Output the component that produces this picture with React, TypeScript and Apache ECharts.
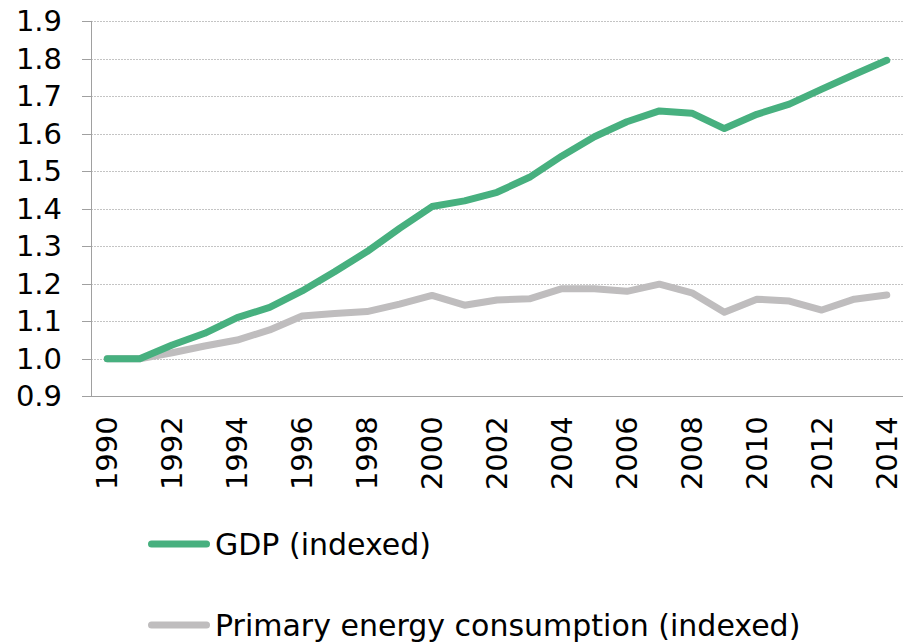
import React, { useEffect, useRef } from "react";
import * as echarts from "echarts";

const years = [
  "1990", "1991", "1992", "1993", "1994", "1995", "1996", "1997", "1998", "1999",
  "2000", "2001", "2002", "2003", "2004", "2005", "2006", "2007", "2008", "2009",
  "2010", "2011", "2012", "2013", "2014",
];

const gdp = [
  1.0, 1.0, 1.037, 1.068, 1.11, 1.137, 1.181, 1.232, 1.286, 1.348,
  1.406, 1.421, 1.444, 1.484, 1.541, 1.592, 1.632, 1.661, 1.655, 1.614,
  1.652, 1.679, 1.719, 1.758, 1.796,
];

const energy = [
  1.0, 1.0, 1.016, 1.034, 1.05, 1.077, 1.114, 1.121, 1.126, 1.146,
  1.169, 1.143, 1.157, 1.16, 1.187, 1.187, 1.18, 1.199, 1.176, 1.124,
  1.159, 1.154, 1.13, 1.159, 1.17,
];

const seriesNames = ["GDP (indexed)", "Primary energy consumption (indexed)"];

const FONT = "'DejaVu Sans', Verdana, sans-serif";
const PILL = "path://M3.5,0 H58.5 A3.5,3.5 0 0 1 58.5,7 H3.5 A3.5,3.5 0 0 1 3.5,0 Z";

const legendBase = {
  orient: "horizontal",
  left: 148,
  itemWidth: 62,
  itemHeight: 7,
  icon: PILL,
  padding: 0,
  textStyle: { fontSize: 30, color: "#000", fontFamily: FONT },
};

export default function App() {
  const ref = useRef<HTMLDivElement>(null);
  useEffect(() => {
    if (!ref.current) return;
    const chart = echarts.init(ref.current, undefined, { renderer: "svg" });
    chart.setOption({
      animation: false,
      grid: { left: 91, top: 21.3, height: 375, width: 815 },
      legend: [
        { ...legendBase, top: 529, data: [seriesNames[0]] },
        { ...legendBase, top: 610, data: [seriesNames[1]] },
      ],
      xAxis: {
        type: "category",
        data: years,
        boundaryGap: true,
        axisLine: { lineStyle: { color: "#a0a0a0", width: 1 } },
        axisTick: { interval: 0, length: 9, lineStyle: { color: "#a0a0a0" } },
        axisLabel: {
          interval: 1,
          rotate: 90,
          margin: 20,
          fontSize: 29,
          color: "#000",
          fontFamily: FONT,
        },
      },
      yAxis: {
        type: "value",
        min: 0.9,
        max: 1.9,
        interval: 0.1,
        axisLine: { show: true, lineStyle: { color: "#a0a0a0", width: 1 } },
        axisTick: { show: true, length: 9, lineStyle: { color: "#a0a0a0" } },
        axisLabel: {
          margin: 29,
          fontSize: 29,
          color: "#000",
          fontFamily: FONT,
          formatter: (v: number) => v.toFixed(1),
        },
        splitLine: { lineStyle: { color: "#c4c4c4", type: [2, 1], width: 1 } },
      },
      series: [
        {
          name: seriesNames[1],
          type: "line",
          data: energy,
          symbol: "none",
          lineStyle: { color: "#bfbdbe", width: 7, cap: "round", join: "round" },
          itemStyle: { color: "#bfbdbe" },
          z: 2,
        },
        {
          name: seriesNames[0],
          type: "line",
          data: gdp,
          symbol: "none",
          lineStyle: { color: "#47b07f", width: 7, cap: "round", join: "round" },
          itemStyle: { color: "#47b07f" },
          z: 3,
        },
      ],
    });
    return () => chart.dispose();
  }, []);
  return (
    <div
      ref={ref}
      style={{ position: "absolute", left: 0, top: 0, width: 903, height: 643 }}
    />
  );
}
